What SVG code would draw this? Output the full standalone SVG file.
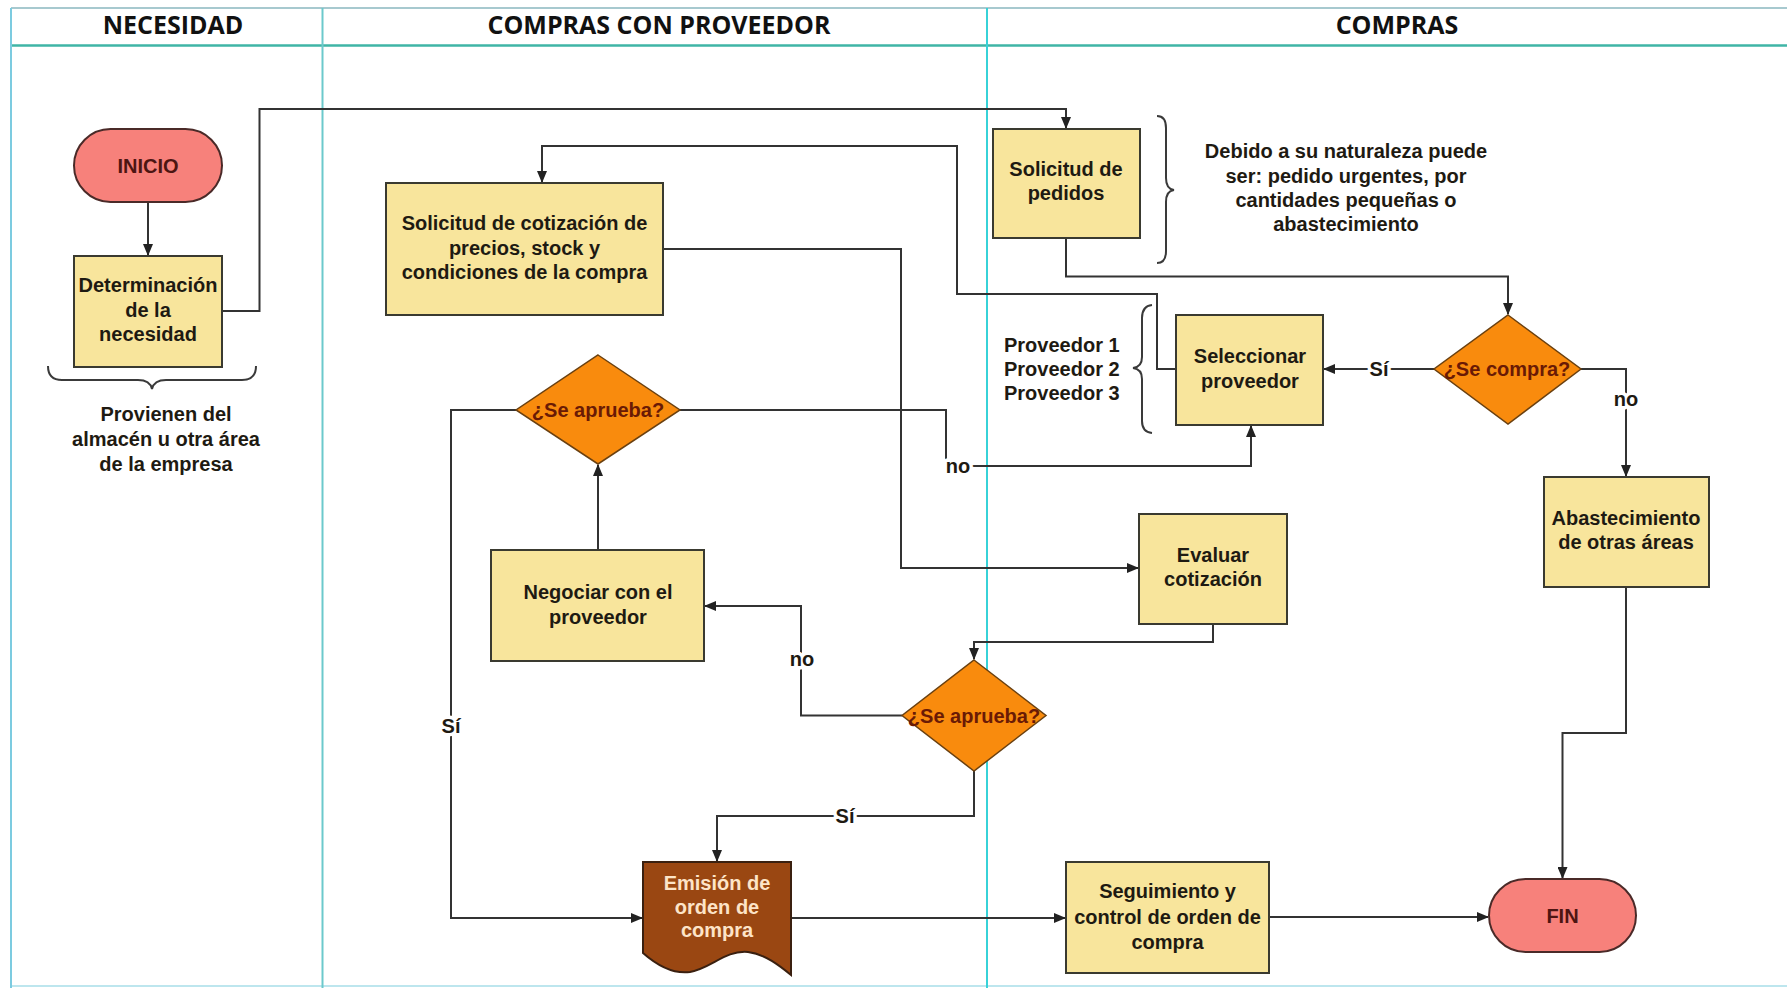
<svg xmlns="http://www.w3.org/2000/svg" width="1787" height="990" viewBox="0 0 1787 990">
  <style>
    .box { fill:#f8e59c; stroke:#3a3a30; stroke-width:2 }
    .dec { fill:#f98b0d; stroke:#6a4010; stroke-width:1.5 }
    .term { fill:#f7817b; stroke:#4a2a28; stroke-width:2 }
    .doc { fill:#9a4712; stroke:#3a2010; stroke-width:2 }
    .t { font-family:"Liberation Sans", Arial, sans-serif; font-weight:700; font-size:20px; fill:#1e1a12; text-anchor:middle }
    .dt { fill:#6a1a05 }
    .tt { fill:#4d1512 }
    .wt { fill:#fde4c8 }
    .hd { font-family:"Open Sans", "Liberation Sans", sans-serif; font-weight:700; font-size:25px; fill:#111; text-anchor:middle }
    .lbl { paint-order:stroke; stroke:#ffffff; stroke-width:7px; stroke-linejoin:round }
    .c { fill:none; stroke:#333; stroke-width:2 }
    .br { fill:none; stroke:#3a3a3a; stroke-width:2 }
  </style>
  <defs>
    <marker id="arr" markerUnits="userSpaceOnUse" markerWidth="12" markerHeight="10" refX="11" refY="5" orient="auto">
      <path d="M0,0 L12,5 L0,10 Z" fill="#222"/>
    </marker>
  </defs>

  <rect width="1787" height="990" fill="#ffffff"/>

  <!-- swimlanes -->
  <g id="lanes">
    <line x1="11" y1="8" x2="1787" y2="8" stroke="#8ab7bf" stroke-width="1.5"/>
    <line x1="11" y1="45.5" x2="1787" y2="45.5" stroke="#3fb5a6" stroke-width="2.5"/>
    <line x1="11" y1="986" x2="1787" y2="986" stroke="#bde6ee" stroke-width="2"/>
    <line x1="11" y1="8" x2="11" y2="988" stroke="#7ccbe0" stroke-width="2"/>
    <line x1="322.5" y1="8" x2="322.5" y2="988" stroke="#6cc9cc" stroke-width="2"/>
    <line x1="987" y1="8" x2="987" y2="988" stroke="#37d2d8" stroke-width="2"/>
    <text class="hd" x="173" y="34">NECESIDAD</text>
    <text class="hd" x="659" y="34">COMPRAS CON PROVEEDOR</text>
    <text class="hd" x="1397" y="34">COMPRAS</text>
  </g>

  <!-- connectors -->
  <g id="connectors">
    <path class="c" d="M148,202 L148,255" marker-end="url(#arr)"/>
    <path class="c" d="M222,311 L259.5,311 L259.5,109 L1066,109 L1066,128" marker-end="url(#arr)"/>
    <path class="c" d="M1066,238 L1066,276.5 L1508,276.5 L1508,314" marker-end="url(#arr)"/>
    <path class="c" d="M1434,369 L1324,369" marker-end="url(#arr)"/>
    <path class="c" d="M1580,369 L1626,369 L1626,476" marker-end="url(#arr)"/>
    <path class="c" d="M1626,587 L1626,733 L1562.5,733 L1562.5,878" marker-end="url(#arr)"/>
    <path class="c" d="M1176,369 L1157,369 L1157,294 L957,294 L957,146 L542,146 L542,182" marker-end="url(#arr)"/>
    <path class="c" d="M663,249 L901,249 L901,568 L1138,568" marker-end="url(#arr)"/>
    <path class="c" d="M1213,624 L1213,642 L974,642 L974,659" marker-end="url(#arr)"/>
    <path class="c" d="M902,715.5 L801,715.5 L801,606 L705,606" marker-end="url(#arr)"/>
    <path class="c" d="M598,550 L598,465" marker-end="url(#arr)"/>
    <path class="c" d="M680,410 L946,410 L946,466 L1251,466 L1251,426" marker-end="url(#arr)"/>
    <path class="c" d="M516,410 L451,410 L451,918 L642,918" marker-end="url(#arr)"/>
    <path class="c" d="M974,771 L974,816 L717,816 L717,861" marker-end="url(#arr)"/>
    <path class="c" d="M791,918 L1065,918" marker-end="url(#arr)"/>
    <path class="c" d="M1269,917 L1488,917" marker-end="url(#arr)"/>
    <!-- branch labels -->
    <text class="t lbl" x="1379" y="376">Sí</text>
    <text class="t lbl" x="1626" y="406">no</text>
    <text class="t lbl" x="958" y="473">no</text>
    <text class="t lbl" x="802" y="666">no</text>
    <text class="t lbl" x="451" y="733">Sí</text>
    <text class="t lbl" x="845" y="823">Sí</text>
  </g>

  <!-- nodes -->
  <g id="inicio">
    <rect class="term" x="74" y="129" width="148" height="73" rx="36.5"/>
    <text class="t tt" x="148" y="172.5">INICIO</text>
  </g>

  <g id="determinacion">
    <rect class="box" x="74" y="256" width="148" height="111"/>
    <text class="t" x="148" y="292">Determinación</text>
    <text class="t" x="148" y="316.5">de la</text>
    <text class="t" x="148" y="341">necesidad</text>
  </g>

  <g id="nota-necesidad">
    <path class="br" d="M48,366 Q48,380 62,380 L138,380 Q150,380 152,389 Q154,380 166,380 L242,380 Q256,380 256,366"/>
    <text class="t" x="166" y="421">Provienen del</text>
    <text class="t" x="166" y="446">almacén u otra área</text>
    <text class="t" x="166" y="471">de la empresa</text>
  </g>

  <g id="solicitud-pedidos">
    <rect class="box" x="993" y="129" width="147" height="109"/>
    <text class="t" x="1066" y="176">Solicitud de</text>
    <text class="t" x="1066" y="200">pedidos</text>
  </g>

  <g id="nota-pedidos">
    <path class="br" d="M1157,116 Q1166,116 1166,128 L1166,178 Q1166,189 1174,190 Q1166,191 1166,202 L1166,251 Q1166,263 1157,263"/>
    <text class="t" x="1346" y="158">Debido a su naturaleza puede</text>
    <text class="t" x="1346" y="183">ser: pedido urgentes, por</text>
    <text class="t" x="1346" y="207">cantidades pequeñas o</text>
    <text class="t" x="1346" y="231">abastecimiento</text>
  </g>

  <g id="se-compra">
    <polygon class="dec" points="1508,315 1581,369 1508,424 1434,369"/>
    <text class="t dt" x="1507" y="376">¿Se compra?</text>
  </g>

  <g id="seleccionar-proveedor">
    <rect class="box" x="1176" y="315" width="147" height="110"/>
    <text class="t" x="1250" y="363">Seleccionar</text>
    <text class="t" x="1250" y="387.5">proveedor</text>
  </g>

  <g id="nota-proveedores">
    <path class="br" d="M1152,305 Q1142,306 1142,318 L1142,357 Q1142,367 1133,368 Q1142,369 1142,379 L1142,421 Q1142,432 1152,433"/>
    <text class="t" x="1004" y="352" style="text-anchor:start">Proveedor 1</text>
    <text class="t" x="1004" y="375.5" style="text-anchor:start">Proveedor 2</text>
    <text class="t" x="1004" y="399.5" style="text-anchor:start">Proveedor 3</text>
  </g>

  <g id="abastecimiento">
    <rect class="box" x="1544" y="477" width="165" height="110"/>
    <text class="t" x="1626" y="524.5">Abastecimiento</text>
    <text class="t" x="1626" y="548.5">de otras áreas</text>
  </g>

  <g id="solicitud-cotizacion">
    <rect class="box" x="386" y="183" width="277" height="132"/>
    <text class="t" x="524.5" y="230">Solicitud de cotización de</text>
    <text class="t" x="524.5" y="254.5">precios, stock y</text>
    <text class="t" x="524.5" y="279">condiciones de la compra</text>
  </g>

  <g id="se-aprueba-negociacion">
    <polygon class="dec" points="598,355 680,410 598,464 516,410"/>
    <text class="t dt" x="598" y="417">¿Se aprueba?</text>
  </g>

  <g id="negociar">
    <rect class="box" x="491" y="550" width="213" height="111"/>
    <text class="t" x="598" y="599">Negociar con el</text>
    <text class="t" x="598" y="624">proveedor</text>
  </g>

  <g id="evaluar-cotizacion">
    <rect class="box" x="1139" y="514" width="148" height="110"/>
    <text class="t" x="1213" y="561.5">Evaluar</text>
    <text class="t" x="1213" y="586">cotización</text>
  </g>

  <g id="se-aprueba-cotizacion">
    <polygon class="dec" points="974,660 1046,715.5 974,771 902,715.5"/>
    <text class="t dt" x="974" y="722.5">¿Se aprueba?</text>
  </g>

  <g id="emision-orden">
    <path class="doc" d="M643,862 L791,862 L791,975 C780,966 765,954 748,952 C725,950 712,968 690,972 C675,974 660,968 643,953 Z"/>
    <text class="t wt" x="717" y="890">Emisión de</text>
    <text class="t wt" x="717" y="914">orden de</text>
    <text class="t wt" x="717" y="937">compra</text>
  </g>

  <g id="seguimiento">
    <rect class="box" x="1066" y="862" width="203" height="111"/>
    <text class="t" x="1167.5" y="898">Seguimiento y</text>
    <text class="t" x="1167.5" y="923.5">control de orden de</text>
    <text class="t" x="1167.5" y="948.5">compra</text>
  </g>

  <g id="fin">
    <rect class="term" x="1489" y="879" width="147" height="73" rx="36.5"/>
    <text class="t tt" x="1562.5" y="922.5">FIN</text>
  </g>
</svg>
